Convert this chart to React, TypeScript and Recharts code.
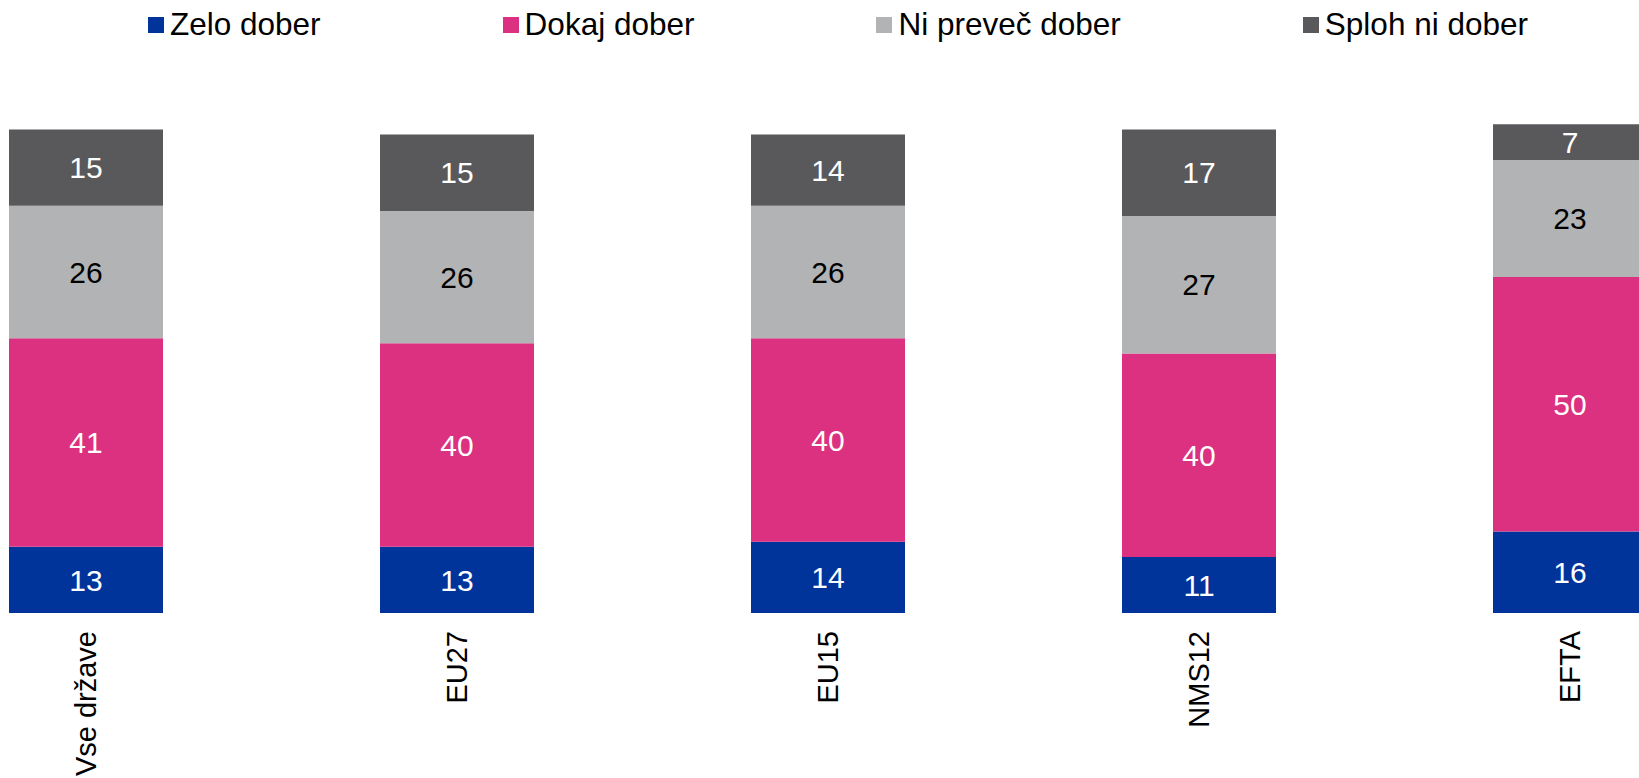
import React from "react";
import { BarChart, Bar, XAxis, YAxis, Legend, LabelList } from "recharts";

const categories = ["Vse države", "EU27", "EU15", "NMS12", "EFTA"];
const zeloDober = [13, 13, 14, 11, 16];
const dokajDober = [41, 40, 40, 40, 50];
const niPrevecDober = [26, 26, 26, 27, 23];
const splohNiDober = [15, 15, 14, 17, 7];

const seriesNames = ["Zelo dober", "Dokaj dober", "Ni preveč dober", "Sploh ni dober"];
const seriesKeys = ["zelo", "dokaj", "niprevec", "sploh"];
const seriesColors = ["#00349B", "#DC3080", "#B2B3B5", "#59595B"];
const labelColors = ["#FFFFFF", "#FFFFFF", "#000000", "#FFFFFF"];

const data = categories.map((c, i) => ({
  name: c,
  zelo: zeloDober[i],
  dokaj: dokajDober[i],
  niprevec: niPrevecDober[i],
  sploh: splohNiDober[i],
}));

const FONT = '"Liberation Sans", Arial, Helvetica, sans-serif';

const Tick = (props: any) => {
  const { x, y, payload } = props;
  return (
    <g transform={`translate(${x},${y + 10})`}>
      <text
        transform="rotate(-90)"
        textAnchor="end"
        dy="0.35em"
        fill="#000"
        fontSize={29}
        fontFamily={FONT}
      >
        {payload.value}
      </text>
    </g>
  );
};

const LegendContent = () => (
  <div
    style={{
      display: "flex",
      flexDirection: "row",
      alignItems: "center",
      paddingLeft: 148,
      gap: 182,
      fontFamily: FONT,
      fontSize: 31.5,
      lineHeight: "37px",
      color: "#000",
      whiteSpace: "nowrap",
    }}
  >
    {seriesNames.map((n, i) => (
      <div key={n} style={{ display: "flex", alignItems: "center" }}>
        <span
          style={{
            display: "inline-block",
            width: 16,
            height: 16,
            background: seriesColors[i],
            marginRight: 6,
          }}
        />
        <span>{n}</span>
      </div>
    ))}
  </div>
);

export default function App() {
  return (
    <div
      style={{
        position: "absolute",
        left: 0,
        top: 0,
        width: 1639,
        height: 778,
        overflow: "hidden",
        background: "#fff",
      }}
    >
      <div style={{ position: "absolute", left: -100, top: 0 }}>
        <BarChart
          width={1855}
          height={778}
          data={data}
          margin={{ top: 104, right: 0, bottom: 5, left: 0 }}
        >
          <XAxis
            dataKey="name"
            axisLine={false}
            tickLine={false}
            interval={0}
            height={160}
            tick={<Tick />}
          />
          <YAxis hide domain={[0, 100]} />
          <Legend
            verticalAlign="middle"
            align="center"
            content={<LegendContent />}
            wrapperStyle={{ top: 6, left: 100, width: 1639, height: 37 }}
          />
          {seriesKeys.map((k, i) => (
            <Bar
              key={k}
              dataKey={k}
              name={seriesNames[i]}
              stackId="a"
              fill={seriesColors[i]}
              barSize={154}
              isAnimationActive={false}
            >
              <LabelList
                dataKey={k}
                position="center"
                fill={labelColors[i]}
                fontSize={30}
                fontFamily={FONT}
              />
            </Bar>
          ))}
        </BarChart>
      </div>
    </div>
  );
}
